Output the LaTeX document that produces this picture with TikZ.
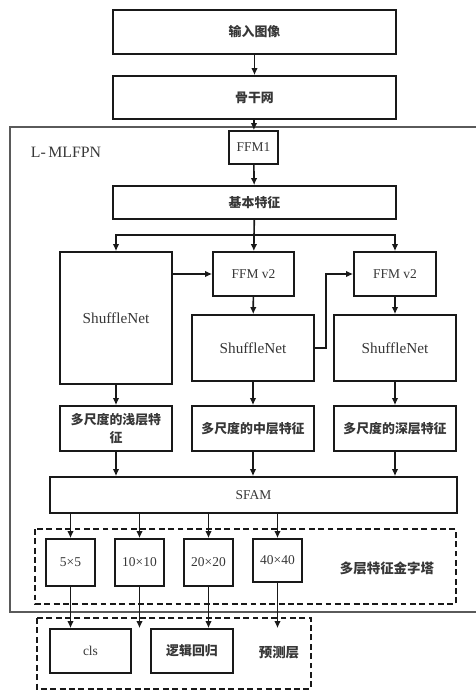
\documentclass[tikz,border=0pt]{standalone}
\usepackage{fontspec}
\setmainfont{Liberation Serif}
\newfontfamily\cjk{Noto Sans CJK SC}
\usetikzlibrary{arrows.meta}
\definecolor{lnblack}{RGB}{25,25,25}
\definecolor{txgray}{RGB}{55,55,55}
\definecolor{frgray}{RGB}{90,90,90}

\tikzset{
  box/.style 2 args={draw=lnblack, line width=1.4pt, minimum width=#1cm,
    minimum height=#2cm, inner sep=1pt, text=txgray,
    font=\fontsize{11.5}{13}\selectfont},
  cbox/.style 2 args={box={#1}{#2}, font=\cjk\bfseries\fontsize{11}{15}\selectfont},
  arr/.style={-{Latex[length=6pt,width=5.5pt]}, line width=1.4pt, draw=lnblack},
  dbox/.style={draw=lnblack, line width=1.6pt, dash pattern=on 5pt off 3pt},
  lbl/.style={text=txgray, font=\cjk\bfseries\fontsize{11.5}{13}\selectfont},
}

\begin{document}
\begin{tikzpicture}[x=0.03cm, y=-0.03cm]
  \useasboundingbox (0,0) rectangle (476,691);
  % outer L-MLFPN frame
  \draw[frgray, line width=0.9pt] (476,127) -| (10,612) -- (476,612);
  \node[text=txgray, font=\fontsize{13.5}{15}\selectfont] (lmlfpn) at (66,152) {L-\,MLFPN};

  \node[cbox={8.49}{1.32}] (input) at (254.5,32) {输入图像};
  \node[cbox={8.49}{1.29}] (backbone) at (254.5,97.5) {骨干网};
  \node[box={1.47}{0.99}] (ffm1) at (253.5,147.5) {FFM1};
  \node[cbox={8.49}{0.99}] (base) at (254.5,202.5) {基本特征};

  % three branches
  \node[box={3.36}{3.96}, font=\fontsize{13}{15}\selectfont] (sn1) at (116,318) {ShuffleNet};
  \node[box={2.43}{1.32}] (ffm2) at (253.5,274) {FFM v2};
  \node[box={2.46}{1.32}] (ffm3) at (395,274) {FFM v2};
  \node[box={3.66}{1.98}, font=\fontsize{13}{15}\selectfont] (sn2) at (253,348) {ShuffleNet};
  \node[box={3.66}{1.98}, font=\fontsize{13}{15}\selectfont] (sn3) at (395,348) {ShuffleNet};

  \node[cbox={3.36}{1.35}, text width=3.1cm, align=center] (f1) at (116,428.5) {多尺度的浅层特\\征};
  \node[cbox={3.66}{1.35}] (f2) at (253,428.5) {多尺度的中层特征};
  \node[cbox={3.66}{1.35}] (f3) at (395,428.5) {多尺度的深层特征};

  \node[box={12.21}{1.08}] (sfam) at (253.5,495) {SFAM};

  % feature pyramid
  \draw[dbox] (35,529) rectangle (456,604);
  \node[box={1.47}{1.41}] (p1) at (70.5,562.5) {5×5};
  \node[box={1.47}{1.41}] (p2) at (139.5,562.5) {10×10};
  \node[box={1.47}{1.41}] (p3) at (208.5,562.5) {20×20};
  \node[box={1.47}{1.29}] (p4) at (277.5,560.5) {40×40};
  \node[lbl] (pyr) at (387,568) {多层特征金字塔};

  % prediction layer
  \draw[dbox] (37,618) rectangle (311,689);
  \node[box={2.43}{1.32}] (cls) at (90.5,651) {cls};
  \node[cbox={2.46}{1.32}] (reg) at (192,651) {逻辑回归};
  \node[lbl] (pred) at (279,653) {预测层};

  % connectors
  \draw[arr] (input) -- (backbone);
  \draw[arr] (backbone) -- (ffm1);
  \draw[arr] (ffm1) -- (base);
  \draw[arr] (base) -- (ffm2);
  \coordinate (br) at (254.5,235);
  \draw[arr] (br) -| (sn1.north);
  \draw[arr] (br) -| (ffm3.north);
  \draw[arr] (sn1.east |- ffm2.west) -- (ffm2.west);
  \draw[arr] (sn2.east) -- ++(11,0) |- (ffm3.west);
  \draw[arr] (ffm2) -- (sn2);
  \draw[arr] (ffm3) -- (sn3);
  \draw[arr] (sn1) -- (f1);
  \draw[arr] (sn2) -- (f2);
  \draw[arr] (sn3) -- (f3);
  \foreach \f in {f1,f2,f3}
    \draw[arr] (\f) -- (\f |- sfam.north);
  \foreach \p in {p1,p2,p3,p4}
    \draw[arr] (\p.north |- sfam.south) -- (\p);
  \coordinate (e2) at (p2 |- cls.north);
  \coordinate (e4) at (p4 |- cls.north);
  \draw[arr] (p1) -- (p1 |- cls.north);
  \draw[arr] (p2) -- (e2);
  \draw[arr] (p3) -- (p3 |- reg.north);
  \draw[arr] (p4) -- (e4);
\end{tikzpicture}
\end{document}
